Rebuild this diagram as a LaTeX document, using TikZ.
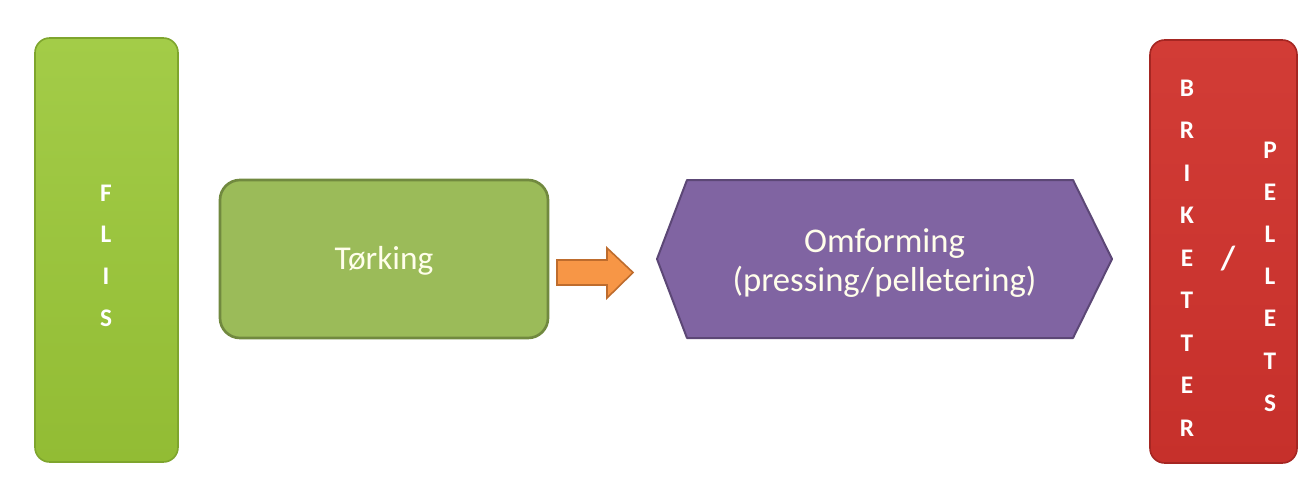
\documentclass[tikz,border=0pt]{standalone}
\usepackage{fontspec}
\setmainfont{Carlito}
\definecolor{flisgreenT}{RGB}{163,204,72}
\definecolor{flisgreenB}{RGB}{146,188,52}
\definecolor{flisedge}{RGB}{126,165,45}
\definecolor{torkgreen}{RGB}{155,187,89}
\definecolor{torkedge}{RGB}{113,137,63}
\definecolor{arroworange}{RGB}{247,150,70}
\definecolor{arrowedge}{RGB}{190,108,45}
\definecolor{hexpurple}{RGB}{128,100,162}
\definecolor{hexedge}{RGB}{92,71,118}
\definecolor{redT}{RGB}{210,60,54}
\definecolor{redB}{RGB}{198,48,43}
\definecolor{rededge}{RGB}{165,38,34}
\tikzset{
  tallbox/.style={rectangle, rounded corners=11pt, line width=1.2pt, inner sep=0pt},
  letters/.style={text=white, align=center, inner sep=0pt, font=\fontsize{19}{31.5}\selectfont\bfseries},
  bigtext/.style={text=white!92!yellow, align=center, inner sep=0pt, font=\fontsize{25}{29.3}\selectfont},
}
\begin{document}
\begin{tikzpicture}[x=0.75pt,y=-0.75pt]
\useasboundingbox[fill=white] (0,0) rectangle (1301,486);

% FLIS
\node[tallbox, draw=flisedge, top color=flisgreenT, bottom color=flisgreenB,
      minimum width=107.25pt, minimum height=318pt] (flis) at (106.5,250) {};
\node[letters, font=\fontsize{19}{31.3}\selectfont\bfseries] (flistxt) at (106,255.5) {F\\L\\I\\S};

% Torking
\node[rectangle, rounded corners=15pt, draw=torkedge, line width=2pt, fill=torkgreen,
      minimum width=246pt, minimum height=118.5pt] (tork) at (384,259) {};
\node[bigtext] (torktxt) at (384,261) {Tørking};

% Hexagon
\coordinate (hL) at (657,259);
\coordinate (hTL) at (687,180);
\coordinate (hTR) at (1073,180);
\coordinate (hR) at (1112,259);
\coordinate (hBR) at (1073,338);
\coordinate (hBL) at (687,338);
\draw[draw=hexedge, line width=1.5pt, fill=hexpurple, line join=round]
  (hL) -- (hTL) -- (hTR) -- (hR) -- (hBR) -- (hBL) -- cycle;
\node[bigtext, font=\fontsize{26}{29.3}\selectfont] (omf) at (884.5,263) {Omforming\\(pressing/pelletering)};

% Arrow between Torking and Omforming
\draw[draw=arrowedge, line width=1.2pt, fill=arroworange, line join=miter]
  (557,260) -- (607,260) -- (607,248) -- (633,272.5) -- (607,298) -- (607,285) -- (557,285) -- cycle;

% Briketter / Pellets
\node[tallbox, draw=rededge, top color=redT, bottom color=redB,
      minimum width=110.25pt, minimum height=317.25pt] (prod) at (1223.5,251.5) {};
\node[letters, font=\fontsize{19}{31.9}\selectfont\bfseries] (brik) at (1187,258) {B\\R\\I\\K\\E\\T\\T\\E\\R};
\node[letters, font=\fontsize{25}{30}\selectfont\bfseries] (slash) at (1228,259) {/};
\node[letters, font=\fontsize{19}{31.65}\selectfont\bfseries] (pell) at (1270,276.5) {P\\E\\L\\L\\E\\T\\S};
\end{tikzpicture}
\end{document}
